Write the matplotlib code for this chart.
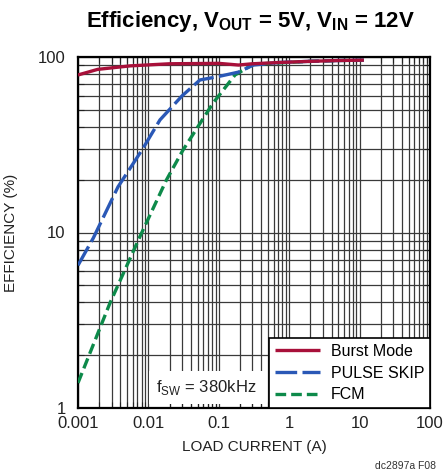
import matplotlib
matplotlib.use("Agg")
import matplotlib.pyplot as plt
from matplotlib.ticker import LogLocator, FixedLocator, NullFormatter, FixedFormatter

# ---- data ----
burst_x = [0.001, 0.0019, 0.0055, 0.02, 0.1, 0.19, 0.3, 0.7, 2, 5, 11.5]
burst_y = [79, 85, 89, 91.5, 92, 90, 91.5, 93, 94.5, 95.5, 96]

pulse_x = [0.001, 0.00165, 0.0037, 0.0081, 0.0146, 0.03, 0.054, 0.093, 0.19, 0.31, 0.7, 2, 5, 11.5]
pulse_y = [6.5, 9.3, 18.2, 29.5, 43.8, 60, 74, 77, 82, 90, 93, 94.5, 95.5, 96]

fcm_x = [0.001, 0.00285, 0.0076, 0.018, 0.031, 0.083, 0.17, 0.31, 0.7, 2, 5, 11.5]
fcm_y = [1.39, 3.97, 9.5, 19.9, 29.5, 54.7, 79, 91, 92.5, 94.5, 95.5, 96]

x_ticks = [0.001, 0.01, 0.1, 1, 10, 100]
x_tick_labels = ["0.001", "0.01", "0.1", "1", "10", "100"]
y_ticks = [1, 10, 100]
y_tick_labels = ["1", "10", "100"]

plt.rcParams["font.family"] = ["Liberation Sans", "DejaVu Sans"]
plt.rcParams["mathtext.fontset"] = "custom"
plt.rcParams["mathtext.rm"] = "Liberation Sans"
plt.rcParams["mathtext.bf"] = "Liberation Sans:bold"

fig = plt.figure(figsize=(4.44, 4.76), dpi=100)
ax = fig.add_axes([78/444, 68/476, 352/444, 351/476])

ax.set_xscale("log")
ax.set_yscale("log")
ax.set_xlim(0.001, 100)
ax.set_ylim(1, 100)

ax.grid(True, which="both", color="#3a3a3a", linewidth=0.9)
ax.set_axisbelow(True)

red = "#a8103a"
blue = "#2a58b6"
green = "#0d8a4a"
l1, = ax.plot(burst_x, burst_y, color=red, lw=2.4, solid_capstyle="butt", zorder=5, label="Burst Mode")
l2, = ax.plot(pulse_x, pulse_y, color=blue, lw=2.4, dashes=(6.5, 1.6), zorder=4, label="PULSE SKIP")
l3, = ax.plot(fcm_x, fcm_y, color=green, lw=2.4, dashes=(3.2, 1.5), zorder=3, label="FCM")

ax.xaxis.set_major_locator(FixedLocator(x_ticks))
ax.xaxis.set_major_formatter(FixedFormatter(x_tick_labels))
ax.xaxis.set_minor_locator(LogLocator(base=10, subs=range(2, 10)))
ax.xaxis.set_minor_formatter(NullFormatter())
ax.yaxis.set_major_locator(FixedLocator(y_ticks))
ax.yaxis.set_major_formatter(FixedFormatter(y_tick_labels))
ax.yaxis.set_minor_locator(LogLocator(base=10, subs=range(2, 10)))
ax.yaxis.set_minor_formatter(NullFormatter())

ax.tick_params(which="both", direction="in", top=True, right=True, labelsize=12,
               colors="#222222")
ax.tick_params(axis="x", pad=6)
ax.tick_params(axis="y", pad=9)
ax.tick_params(which="major", length=0)
ax.tick_params(which="minor", length=4, width=0.8)
for s in ax.spines.values():
    s.set_linewidth(1.6)
    s.set_color("black")

ax.set_xlabel("LOAD CURRENT (A)", fontsize=11, color="#222222", labelpad=6)
ax.set_ylabel("EFFICIENCY (%)", fontsize=11, color="#222222", labelpad=14)

fig.text(250/444, 1 - 21/476, r"Efficiency, V$_{\mathbf{OUT}}$ = 5V, V$_{\mathbf{IN}}$ = 12V",
         ha="center", va="center", fontsize=16, fontweight="bold")

leg = ax.legend(handles=[l1, l2, l3], loc="lower right", fontsize=11.5, frameon=True,
                fancybox=False, edgecolor="black", framealpha=1, borderpad=0.35,
                handlelength=2.8, handletextpad=0.7, labelspacing=0.42,
                borderaxespad=0.0)
leg.get_frame().set_linewidth(1.2)
leg.set_zorder(10)

ax.text(0.222, 0.03, r"f$_{\mathrm{SW}}$ = 380kHz", transform=ax.transAxes,
        fontsize=12, color="#222222", ha="left", va="bottom", zorder=9,
        bbox=dict(facecolor="white", edgecolor="none", pad=5))

fig.text(436/444, 1 - 466/476, "dc2897a F08", ha="right", va="center", fontsize=7.5, color="#333333")

fig.savefig("out.png", dpi=100)
